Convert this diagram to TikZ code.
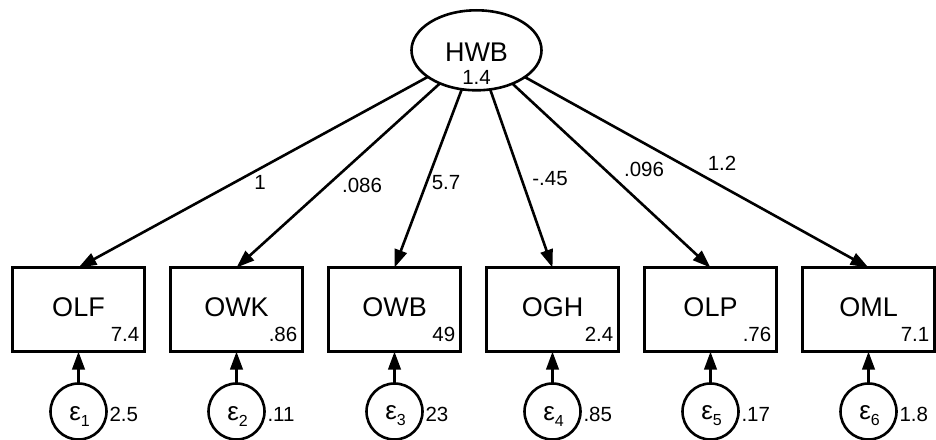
\documentclass[tikz,border=0pt]{standalone}
\usepackage{fontspec}
\setmainfont{Liberation Sans}
\usetikzlibrary{arrows.meta,shapes.geometric}
\begin{document}
\begin{tikzpicture}[x=1pt,y=-1pt,
  every node/.style={inner sep=0pt, outer sep=0pt},
  lw/.style={line width=2.6pt},
  big/.style={font=\fontsize{27}{27}\selectfont},
  num/.style={font=\fontsize{20.5}{20.5}\selectfont},
  obs/.style={draw, lw, big, minimum width=132.5pt, minimum height=84pt,
    text height=19.5pt, text depth=6pt},
  lat/.style={ellipse, draw, lw, minimum width=130pt, minimum height=80pt},
  err/.style={circle, draw, lw, minimum size=56pt},
  link/.style={lw, -{Triangle[length=18pt,width=12.5pt]}},
]
\useasboundingbox (0,0) rectangle (936,439);

% latent variable
\node[lat] (HWB) at (476.5,50.3) {};
\node[big] (HWBname) at (476.5,52.5) {HWB};
\node[num] (HWBvar) at (476.5,77.5) {1.4};

% observed indicators with intercepts
\foreach \nm/\x/\mu in {OLF/78.5/7.4, OWK/236.5/.86, OWB/394.5/49,
                        OGH/552.5/2.4, OLP/710.5/.76, OML/868.5/7.1} {
  \node[obs] (\nm) at (\x,309.6) {\nm};
  \node[num, anchor=base east] (\nm mu) at ([xshift=-5.5pt,yshift=10pt]\nm.south east) {\mu};
}

% error terms with variances
\foreach \nm/\x/\v [count=\i] in {OLF/78.5/2.5, OWK/236.5/.11, OWB/394.5/23,
                                  OGH/552.5/.85, OLP/710.5/.17, OML/868.5/1.8} {
  \node[err] (e\i) at (\x,411.5) {};
  \node (eps\i) at (\x+1,416) {\fontsize{26}{26}\selectfont ε\raisebox{-6pt}{\fontsize{16}{16}\selectfont\i}};
  \node[num, anchor=west] (ev\i) at ([xshift=3pt,yshift=-3pt]e\i.east) {\v};
  \draw[link] (e\i) -- (\nm);
}

% loadings
\foreach \nm in {OLF,OWK,OWB,OGH,OLP,OML}
  \draw[link] (HWB) -- (\nm.north);

\node[num] (l1) at (260,182) {1};
\node[num] (l2) at (362,185) {.086};
\node[num] (l3) at (446,183) {5.7};
\node[num] (l4) at (550,179) {-.45};
\node[num] (l5) at (644,169) {.096};
\node[num] (l6) at (722,163) {1.2};
\end{tikzpicture}
\end{document}
